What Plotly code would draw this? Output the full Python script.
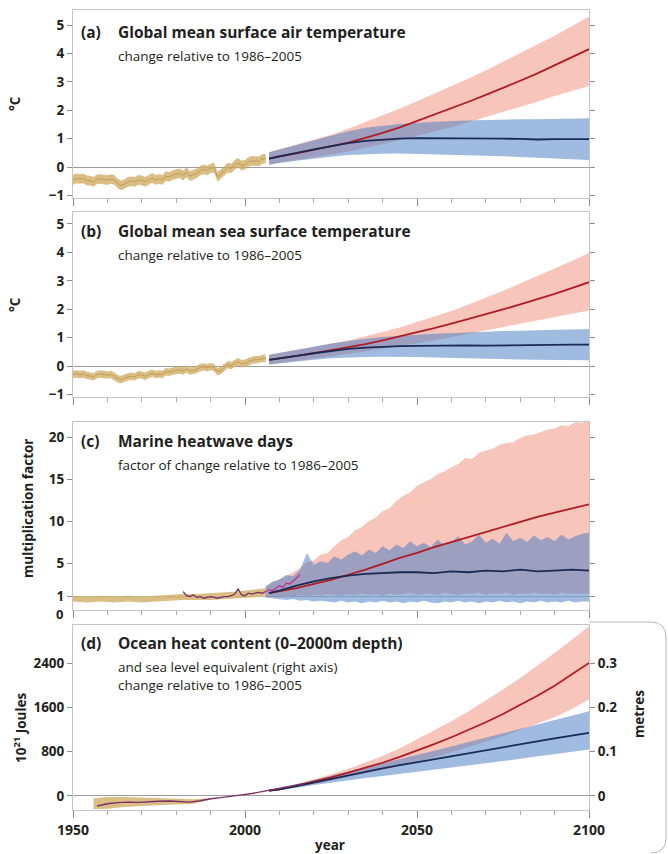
import plotly.graph_objects as go

# ---------------- data ----------------
obs_years = list(range(1950, 2007))
gsat_obs = [-0.45, -0.40, -0.42, -0.40, -0.47, -0.48, -0.52, -0.42, -0.42, -0.44,
            -0.46, -0.42, -0.45, -0.58, -0.65, -0.60, -0.52, -0.50, -0.52, -0.45,
            -0.47, -0.52, -0.45, -0.38, -0.45, -0.42, -0.45, -0.32, -0.35, -0.28,
            -0.25, -0.22, -0.30, -0.18, -0.32, -0.28, -0.22, -0.12, -0.08, -0.12,
            -0.05, -0.02, -0.35, -0.25, -0.12, -0.02, -0.05, 0.08, 0.15, 0.05,
            0.08, 0.18, 0.22, 0.22, 0.20, 0.28, 0.30]
gsat_obs_halfwidth = 0.17
sst_obs = [-0.30, -0.28, -0.30, -0.28, -0.33, -0.35, -0.38, -0.30, -0.28, -0.30,
           -0.32, -0.30, -0.36, -0.45, -0.48, -0.42, -0.38, -0.36, -0.38, -0.30,
           -0.32, -0.36, -0.30, -0.25, -0.30, -0.28, -0.30, -0.20, -0.22, -0.18,
           -0.15, -0.14, -0.18, -0.10, -0.18, -0.16, -0.12, -0.05, -0.03, -0.06,
           -0.02, -0.05, -0.20, -0.15, -0.05, 0.05, 0.02, 0.10, 0.15, 0.08,
           0.10, 0.15, 0.20, 0.22, 0.22, 0.26, 0.28]
sst_obs_halfwidth = 0.13

proj_years = [2007, 2010, 2015, 2020, 2025, 2030, 2035, 2040, 2045, 2050,
              2055, 2060, 2065, 2070, 2075, 2080, 2085, 2090, 2095, 2100]

a_red_mid = [0.30, 0.38, 0.48, 0.60, 0.72, 0.86, 1.03, 1.20, 1.40, 1.62, 1.84, 2.06, 2.30, 2.54, 2.78, 3.04, 3.30, 3.58, 3.86, 4.15]
a_red_lo = [0.08, 0.15, 0.25, 0.35, 0.45, 0.55, 0.68, 0.80, 0.95, 1.10, 1.25, 1.40, 1.58, 1.76, 1.94, 2.12, 2.30, 2.50, 2.68, 2.85]
a_red_hi = [0.52, 0.62, 0.78, 0.95, 1.14, 1.35, 1.58, 1.82, 2.06, 2.32, 2.58, 2.84, 3.12, 3.40, 3.70, 4.00, 4.30, 4.62, 4.96, 5.30]
a_blue_mid = [0.30, 0.38, 0.50, 0.62, 0.74, 0.84, 0.92, 0.97, 1.00, 1.02, 1.02, 1.01, 1.00, 1.01, 1.00, 0.99, 0.97, 0.98, 0.97, 0.98]
a_blue_lo = [0.08, 0.15, 0.22, 0.30, 0.36, 0.42, 0.45, 0.47, 0.48, 0.48, 0.46, 0.44, 0.42, 0.40, 0.38, 0.35, 0.33, 0.30, 0.28, 0.25]
a_blue_hi = [0.52, 0.62, 0.78, 0.95, 1.12, 1.26, 1.38, 1.46, 1.52, 1.56, 1.60, 1.62, 1.64, 1.66, 1.66, 1.68, 1.68, 1.70, 1.70, 1.72]

b_red_mid = [0.22, 0.28, 0.36, 0.45, 0.55, 0.65, 0.77, 0.90, 1.04, 1.18, 1.33, 1.49, 1.65, 1.82, 1.99, 2.17, 2.35, 2.54, 2.74, 2.95]
b_red_lo = [0.05, 0.10, 0.18, 0.26, 0.34, 0.42, 0.51, 0.60, 0.70, 0.80, 0.90, 1.00, 1.12, 1.24, 1.36, 1.48, 1.60, 1.72, 1.84, 1.95]
b_red_hi = [0.40, 0.46, 0.56, 0.66, 0.78, 0.90, 1.04, 1.20, 1.36, 1.54, 1.74, 1.94, 2.16, 2.40, 2.64, 2.90, 3.16, 3.42, 3.70, 3.98]
b_blue_mid = [0.22, 0.28, 0.36, 0.45, 0.53, 0.60, 0.65, 0.68, 0.70, 0.71, 0.72, 0.72, 0.73, 0.72, 0.73, 0.73, 0.74, 0.74, 0.75, 0.75]
b_blue_lo = [0.05, 0.10, 0.16, 0.22, 0.27, 0.30, 0.32, 0.33, 0.33, 0.32, 0.30, 0.29, 0.27, 0.26, 0.24, 0.23, 0.22, 0.21, 0.20, 0.20]
b_blue_hi = [0.40, 0.46, 0.56, 0.68, 0.79, 0.88, 0.96, 1.02, 1.07, 1.10, 1.14, 1.17, 1.19, 1.21, 1.23, 1.24, 1.26, 1.27, 1.28, 1.30]

# marine heatwave days
c_obs_band_years = [1950, 1954, 1958, 1962, 1966, 1970, 1974, 1978, 1982, 1986, 1990, 1994, 1998, 2002, 2006]
c_obs_band_hi = [1.1, 1.0, 1.1, 1.0, 1.1, 1.0, 1.1, 1.2, 1.3, 1.3, 1.4, 1.5, 1.6, 1.8, 2.0]
c_obs_band_lo = [0.4, 0.3, 0.4, 0.3, 0.4, 0.3, 0.4, 0.5, 0.6, 0.6, 0.6, 0.7, 0.8, 0.9, 1.1]
c_obs_years = list(range(1982, 2007))
c_obs = [1.6, 1.1, 1.0, 1.2, 0.9, 1.0, 0.8, 0.9, 1.0, 0.9, 0.8, 0.9, 1.0, 1.0, 1.1, 1.3, 1.9, 1.2, 1.1, 1.4,
         1.3, 1.4, 1.5, 1.4, 1.6]
c_obs_recent_years = list(range(2006, 2017))
c_obs_recent = [1.6, 1.8, 1.7, 2.0, 2.3, 2.1, 2.6, 2.5, 2.8, 3.2, 3.6]
c_band_years = list(range(2006, 2101, 2))
c_blue_hi = [2.2, 2.8, 3.0, 3.6, 3.4, 4.2, 6.2, 4.8,
             5.2, 5.0, 5.8, 5.4, 6.0, 6.4, 5.9, 6.6,
             6.2, 7.0, 6.5, 7.2, 6.8, 7.6, 7.0, 7.4,
             6.9, 7.8, 7.1, 7.5, 8.2, 7.2, 7.6, 8.4,
             7.4, 7.9, 7.3, 8.6, 7.6, 8.0, 7.5, 8.3,
             7.7, 8.1, 7.6, 8.4, 7.8, 8.2, 8.5, 8.6]
c_blue_lo = [0.9, 0.8, 0.7, 0.6, 0.7, 0.5, 0.6, 0.4,
             0.5, 0.4, 0.3, 0.5, 0.3, 0.4, 0.2, 0.4,
             0.3, 0.5, 0.3, 0.4, 0.2, 0.4, 0.3, 0.5,
             0.3, 0.2, 0.4, 0.3, 0.5, 0.3, 0.4, 0.2,
             0.4, 0.3, 0.5, 0.3, 0.4, 0.2, 0.4, 0.3,
             0.5, 0.3, 0.4, 0.3, 0.5, 0.3, 0.4, 0.4]
c_red_hi = [2.2, 2.6, 3.1, 3.4, 3.9, 4.4, 5.1, 5.3,
            6.0, 6.2, 7.0, 7.7, 8.1, 8.9, 9.3, 10.0,
            10.4, 11.2, 11.5, 12.4, 13.0, 13.4, 14.2, 14.6,
            15.0, 15.6, 15.9, 16.4, 16.8, 17.5, 17.4, 18.1,
            18.4, 18.6, 19.1, 19.3, 19.4, 19.9, 20.2, 20.3,
            20.6, 20.9, 21.0, 21.4, 21.3, 21.8, 21.7, 22.0]
c_red_lo = [0.9, 1.0, 1.0, 1.1, 1.0, 1.2, 1.1, 1.2,
            1.1, 1.3, 1.2, 1.1, 1.3, 1.2, 1.4, 1.2,
            1.3, 1.1, 1.4, 1.2, 1.3, 1.5, 1.2, 1.3,
            1.4, 1.2, 1.5, 1.3, 1.2, 1.4, 1.3, 1.5,
            1.2, 1.4, 1.3, 1.5, 1.2, 1.4, 1.3, 1.5,
            1.3, 1.4, 1.2, 1.5, 1.3, 1.4, 1.3, 1.4]
c_red_mid = [1.4, 1.6, 2.0, 2.5, 3.0, 3.6, 4.2, 4.9, 5.6, 6.2, 6.9, 7.5, 8.1, 8.7, 9.3, 9.9, 10.5, 11.0, 11.5, 12.0]
c_blue_mid = [1.4, 1.7, 2.3, 2.8, 3.2, 3.5, 3.7, 3.8, 3.9, 3.9, 3.8, 4.0, 3.9, 4.1, 4.0, 4.2, 4.0, 4.1, 4.2, 4.1]

# ocean heat content (10^21 J)
d_band_years = [1956, 1960, 1965, 1970, 1975, 1980, 1985, 1990]
d_band_hi = [-40, -20, -20, -30, -30, -40, -60, -40]
d_band_lo = [-240, -230, -200, -180, -160, -150, -140, -70]
d_obs_years = [1957, 1960, 1963, 1966, 1969, 1972, 1975, 1978, 1981, 1984, 1987, 1990, 1993, 1996, 1999,
               2002, 2005, 2008, 2011, 2014, 2017]
d_obs = [-180, -140, -120, -110, -115, -100, -95, -90, -100, -110, -85, -50, -30, 0, 20, 45, 80, 110, 150, 185, 220]
d_red_mid = [95, 120, 185, 255, 335, 420, 505, 600, 705, 815, 935, 1060, 1190, 1330, 1480, 1640, 1810, 1990, 2190, 2400]
d_red_lo = [75, 100, 160, 215, 280, 345, 410, 480, 550, 620, 700, 790, 880, 980, 1080, 1190, 1300, 1420, 1570, 1740]
d_red_hi = [115, 140, 210, 295, 390, 490, 600, 720, 860, 1020, 1180, 1350, 1530, 1720, 1920, 2130, 2350, 2580, 2820, 3060]
d_blue_mid = [95, 120, 180, 245, 310, 375, 440, 500, 555, 610, 665, 720, 775, 830, 880, 930, 985, 1040, 1090, 1140]
d_blue_lo = [75, 100, 150, 200, 245, 285, 325, 360, 395, 430, 470, 510, 550, 590, 630, 670, 710, 750, 795, 840]
d_blue_hi = [115, 140, 210, 285, 365, 440, 515, 595, 665, 735, 815, 895, 975, 1055, 1135, 1215, 1295, 1375, 1450, 1530]
J_PER_METRE = 8000  # sea level equivalent scaling (10^21 J per metre)

x_ticks = [1950, 2000, 2050, 2100]
x_minor = list(range(1950, 2101, 10))

# ---------------- styling ----------------
FONT = "Open Sans"
TXT = "#231f20"
TAN_BAND = "rgba(207,172,98,0.78)"
TAN_LINE = "rgba(190,152,80,0.9)"
RED_BAND = "rgba(242,140,120,0.50)"
BLUE_BAND = "rgba(70,125,195,0.52)"
RED_LINE = "#b01c24"
BLUE_LINE = "#1b2a55"
OBS_PURPLE = "#7a2f66"
OBS_MAGENTA = "#c2338f"

W, H = 668, 854
PL, PR, PT, PB = 73, 589, 10, 810


def xp(px):
    return (px - PL) / (PR - PL)


def yp(py):
    return (PB - py) / (PB - PT)


fig = go.Figure()


def band(x, lo, hi, color, xa, ya):
    fig.add_trace(go.Scatter(x=list(x) + list(x)[::-1], y=list(hi) + list(lo)[::-1],
                             fill="toself", fillcolor=color, line=dict(width=0), mode="lines",
                             hoverinfo="skip", showlegend=False, xaxis=xa, yaxis=ya))


def line(x, y, color, xa, ya, width=1.8):
    fig.add_trace(go.Scatter(x=x, y=y, mode="lines", line=dict(color=color, width=width),
                             hoverinfo="skip", showlegend=False, xaxis=xa, yaxis=ya))


# panel a
band(obs_years, [v - gsat_obs_halfwidth for v in gsat_obs], [v + gsat_obs_halfwidth for v in gsat_obs], TAN_BAND, "x", "y")
line(obs_years, gsat_obs, TAN_LINE, "x", "y", 1.0)
band(proj_years, a_red_lo, a_red_hi, RED_BAND, "x", "y")
band(proj_years, a_blue_lo, a_blue_hi, BLUE_BAND, "x", "y")
line(proj_years, a_red_mid, RED_LINE, "x", "y")
line(proj_years, a_blue_mid, BLUE_LINE, "x", "y")

# panel b
band(obs_years, [v - sst_obs_halfwidth for v in sst_obs], [v + sst_obs_halfwidth for v in sst_obs], TAN_BAND, "x2", "y2")
line(obs_years, sst_obs, TAN_LINE, "x2", "y2", 1.0)
band(proj_years, b_red_lo, b_red_hi, RED_BAND, "x2", "y2")
band(proj_years, b_blue_lo, b_blue_hi, BLUE_BAND, "x2", "y2")
line(proj_years, b_red_mid, RED_LINE, "x2", "y2")
line(proj_years, b_blue_mid, BLUE_LINE, "x2", "y2")

# panel c
band(c_obs_band_years, c_obs_band_lo, c_obs_band_hi, TAN_BAND, "x3", "y3")
band(c_band_years, c_red_lo, c_red_hi, RED_BAND, "x3", "y3")
band(c_band_years, c_blue_lo, c_blue_hi, BLUE_BAND, "x3", "y3")
line(c_obs_years, c_obs, OBS_PURPLE, "x3", "y3", 1.3)
line(proj_years, c_red_mid, RED_LINE, "x3", "y3")
line(proj_years, c_blue_mid, BLUE_LINE, "x3", "y3")
line(c_obs_recent_years, c_obs_recent, OBS_MAGENTA, "x3", "y3", 1.3)

# panel d
band(d_band_years, d_band_lo, d_band_hi, TAN_BAND, "x4", "y4")
band(proj_years, d_red_lo, d_red_hi, RED_BAND, "x4", "y4")
band(proj_years, d_blue_lo, d_blue_hi, BLUE_BAND, "x4", "y4")
line(proj_years, d_red_mid, RED_LINE, "x4", "y4")
line(proj_years, d_blue_mid, BLUE_LINE, "x4", "y4")
line(d_obs_years, d_obs, OBS_PURPLE, "x4", "y4", 1.4)
# sea-level-equivalent trace for right axis (invisible, keeps the axis active)
fig.add_trace(go.Scatter(x=proj_years, y=[v / J_PER_METRE for v in d_red_mid], mode="lines",
                         line=dict(width=0, color="rgba(0,0,0,0)"), hoverinfo="skip",
                         showlegend=False, xaxis="x4", yaxis="y5"))

# ---------------- axes ----------------
tickfont = dict(family=FONT, size=13.5, color=TXT, weight="bold")
domains = {
    "a": [yp(198), yp(10)],
    "b": [yp(397), yp(212)],
    "c": [yp(610), yp(422)],
    "d": [yp(810), yp(625)],
}
ranges = {
    "a": [-1.09, 5.53],
    "b": [-1.09, 5.42],
    "c": [-0.6, 21.8],
    "d": [-253, 3086],
}
AX_LINE = "#c4c4c4"
TICK_C = "#8a8a8a"


def xaxis_cfg(yname, labels):
    return dict(domain=[0, 1], range=[1950, 2100], anchor=yname, showline=True, linecolor=AX_LINE,
                linewidth=1, mirror=True, ticks="outside", ticklen=7, tickcolor=TICK_C,
                tickvals=x_ticks, showticklabels=labels, tickfont=dict(family=FONT, size=14, color=TXT, weight="bold"),
                minor=dict(tickvals=x_minor, ticks="outside", ticklen=4, tickcolor="#a8a8a8"),
                showgrid=False, zeroline=False, fixedrange=True)


def yaxis_cfg(key, xname, tickvals, mirror="ticks", zeroline=True):
    return dict(domain=domains[key], range=ranges[key], anchor=xname, showline=True, linecolor=AX_LINE,
                linewidth=1, mirror=mirror, ticks="outside", ticklen=5, tickcolor=TICK_C,
                tickvals=tickvals, tickfont=tickfont, showgrid=False, zeroline=zeroline,
                zerolinecolor="#9c9c9c", zerolinewidth=1, fixedrange=True)


fig.update_layout(
    width=W, height=H,
    margin=dict(l=PL, r=W - PR, t=PT, b=H - PB),
    paper_bgcolor="white", plot_bgcolor="white",
    showlegend=False,
    xaxis=xaxis_cfg("y", False),
    xaxis2=xaxis_cfg("y2", False),
    xaxis3=xaxis_cfg("y3", False),
    xaxis4=xaxis_cfg("y4", True),
    yaxis=yaxis_cfg("a", "x", [-1, 0, 1, 2, 3, 4, 5]),
    yaxis2=yaxis_cfg("b", "x2", [-1, 0, 1, 2, 3, 4, 5]),
    yaxis3=yaxis_cfg("c", "x3", [1, 5, 10, 15, 20], zeroline=False),
    yaxis4=yaxis_cfg("d", "x4", [0, 800, 1600, 2400], mirror=False),
    yaxis5=dict(overlaying="y4", side="right", anchor="x4",
                range=[ranges["d"][0] / J_PER_METRE, ranges["d"][1] / J_PER_METRE],
                tickvals=[0, 0.1, 0.2, 0.3], ticktext=["0", "0.1", "0.2", "0.3"],
                ticks="outside", ticklen=5, tickcolor=TICK_C, showline=True, linecolor=AX_LINE,
                tickfont=tickfont, showgrid=False, zeroline=False, fixedrange=True),
)

# reference line at factor 1 in panel c
fig.add_shape(type="line", xref="x3 domain", yref="y3", x0=0, x1=1, y0=1, y1=1,
              line=dict(color="#bdbdbd", width=1), layer="below")

# rounded frame on the right of panel d
path = ("M {x0},{y0} L {x1},{y0} Q {x2},{y0} {x2},{y1} L {x2},{y2} Q {x2},{y3} {x1},{y3}").format(
    x0=xp(589), x1=xp(651), x2=xp(666), y0=yp(622), y1=yp(638), y2=yp(838), y3=yp(853))
fig.add_shape(type="path", xref="paper", yref="paper", path=path,
              line=dict(color="#b8b8b8", width=1))

# ---------------- text ----------------
ann = []


def text(s, px, py, size, bold=False, anchor="left", angle=0):
    ann.append(dict(text=s, x=xp(px), y=yp(py), xref="paper", yref="paper", showarrow=False,
                    xanchor=anchor, yanchor="middle", textangle=angle,
                    font=dict(family=FONT, size=size, color=TXT, weight="bold" if bold else "normal")))


titles = [
    ("(a)", "Global mean surface air temperature", ["change relative to 1986\u20132005"], 32),
    ("(b)", "Global mean sea surface temperature", ["change relative to 1986\u20132005"], 231),
    ("(c)", "Marine heatwave days", ["factor of change relative to 1986\u20132005"], 441),
    ("(d)", "Ocean heat content (0\u20132000m depth)",
     ["and sea level equivalent (right axis)", "change relative to 1986\u20132005"], 643),
]
for lab, title, subs, ty in titles:
    text(lab, 79, ty, 15.5, True)
    text(title, 116, ty, 15.5, True)
    for i, s in enumerate(subs):
        text(s, 116, ty + 24 + 18 * i, 13.5)

text("\u00b0C", 15, 104, 13.5, True, "center", -90)
text("\u00b0C", 15, 305, 13.5, True, "center", -90)
text("multiplication factor", 28, 508, 13.5, True, "center", -90)
text("10<sup>21</sup> Joules", 20, 728, 13.5, True, "center", -90)
text("metres", 639, 714, 13.5, True, "center", -90)
text("0", 65, 614, 13, True, "right")
text("year", 330, 845, 13.5, True, "center")

fig.update_layout(annotations=ann)

fig.write_html("out.html", config={"displayModeBar": False},
               post_script="document.body.style.margin='0';document.body.style.overflow='hidden';")
